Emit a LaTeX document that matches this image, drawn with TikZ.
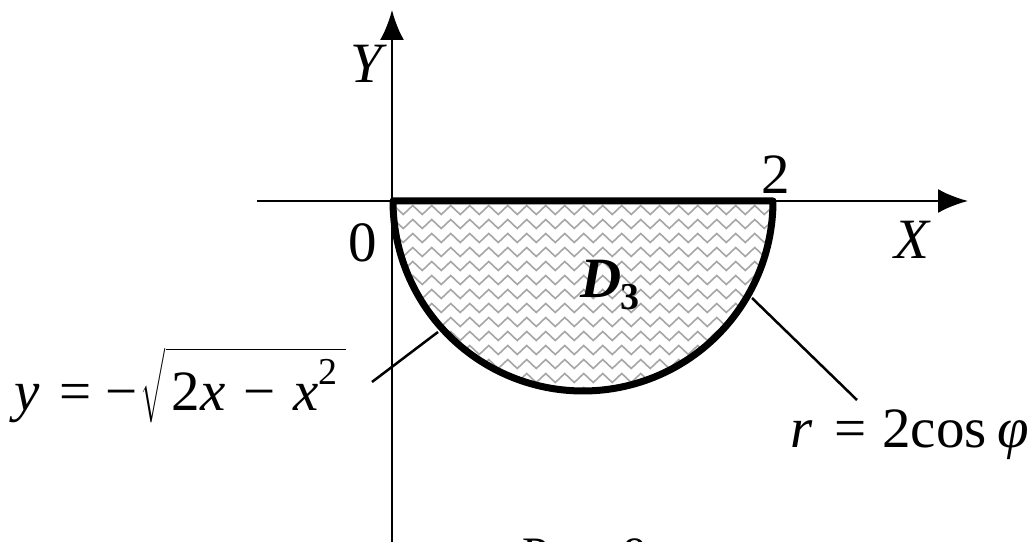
\documentclass[tikz,border=0pt]{standalone}
\usepackage{amsmath}
\usepackage{fontspec}
\setmainfont{Liberation Serif}
\usetikzlibrary{arrows.meta,decorations.pathmorphing}
\begin{document}
\begin{tikzpicture}[x=1bp,y=-1bp,
  axis/.style={line width=2.5bp,-{Latex[length=30bp,width=24bp]}},
  bound/.style={line width=7bp,line join=round},
  lead/.style={line width=2.5bp},
  lbl/.style={inner sep=0pt,font=\fontsize{57bp}{60bp}\selectfont},
  wave/.style={gray!70,line width=1.6bp,decorate,decoration={zigzag,segment length=19bp,amplitude=4.5bp}}]
\useasboundingbox (0,0) rectangle (1032,542);
\clip (0,0) rectangle (1032,542);
% hatching
\begin{scope}
  \clip (393,201) -- (773,201) -- plot[domain=0:180,samples=120] ({583+190*cos(\x)},{201+190*sin(\x)}) -- cycle;
  \foreach \yy in {210,224,...,395} \draw[wave] (370,\yy) -- (800,\yy);
\end{scope}
% axes
\coordinate (Yb) at (392,560);
\coordinate (Yt) at (392,10);
\coordinate (Xl) at (257,201);
\coordinate (Xr) at (968,201);
\draw[axis] (Yb) -- (Yt);
\draw[axis] (Xl) -- (Xr);
% boundary
\draw[bound] (393,201) -- (773,201) -- plot[domain=0:180,samples=120] ({583+190*cos(\x)},{201+190*sin(\x)}) -- cycle;
% labels
\node[lbl] (Ylab) at (366,64) {\itshape Y};
\node[lbl] (zero) at (363,243) {0};
\node[lbl] (two) at (776,175) {2};
\node[lbl] (Xlab) at (912,240) {\itshape X};
\node[lbl] (D) at (610,285) {\bfseries\itshape D\kern-2bp\raisebox{-0.2em}{\fontsize{38bp}{38bp}\selectfont\upshape 3}};
\node[lbl,anchor=base west] (fL) at (14,410) {{\itshape y}\hspace{20bp}=\hspace{14bp}−\hspace{3bp}\ensuremath{\sqrt{\vphantom{\rule[-6bp]{0pt}{58bp}}\mbox{\hspace{6bp}2{\itshape x}\hspace{18bp}−\hspace{18bp}{\itshape x}\raisebox{0.45em}{\fontsize{38bp}{38bp}\selectfont 2}\hspace{8bp}}}}};
\node[lbl,anchor=base west] (fR) at (790,447) {{\itshape r}\hspace{22bp}=\hspace{16bp}2cos\hspace{10bp}{\itshape φ}};
\node[lbl,anchor=base west,font=\fontsize{48bp}{50bp}\selectfont] (cap) at (522,570) {Рис. 9};
% leaders
\coordinate (aL) at (438,332);
\coordinate (eL) at (372,382);
\coordinate (aR) at (752,298);
\coordinate (eR) at (857,400);
\draw[lead] (aL) -- (eL);
\draw[lead] (aR) -- (eR);
\end{tikzpicture}
\end{document}
